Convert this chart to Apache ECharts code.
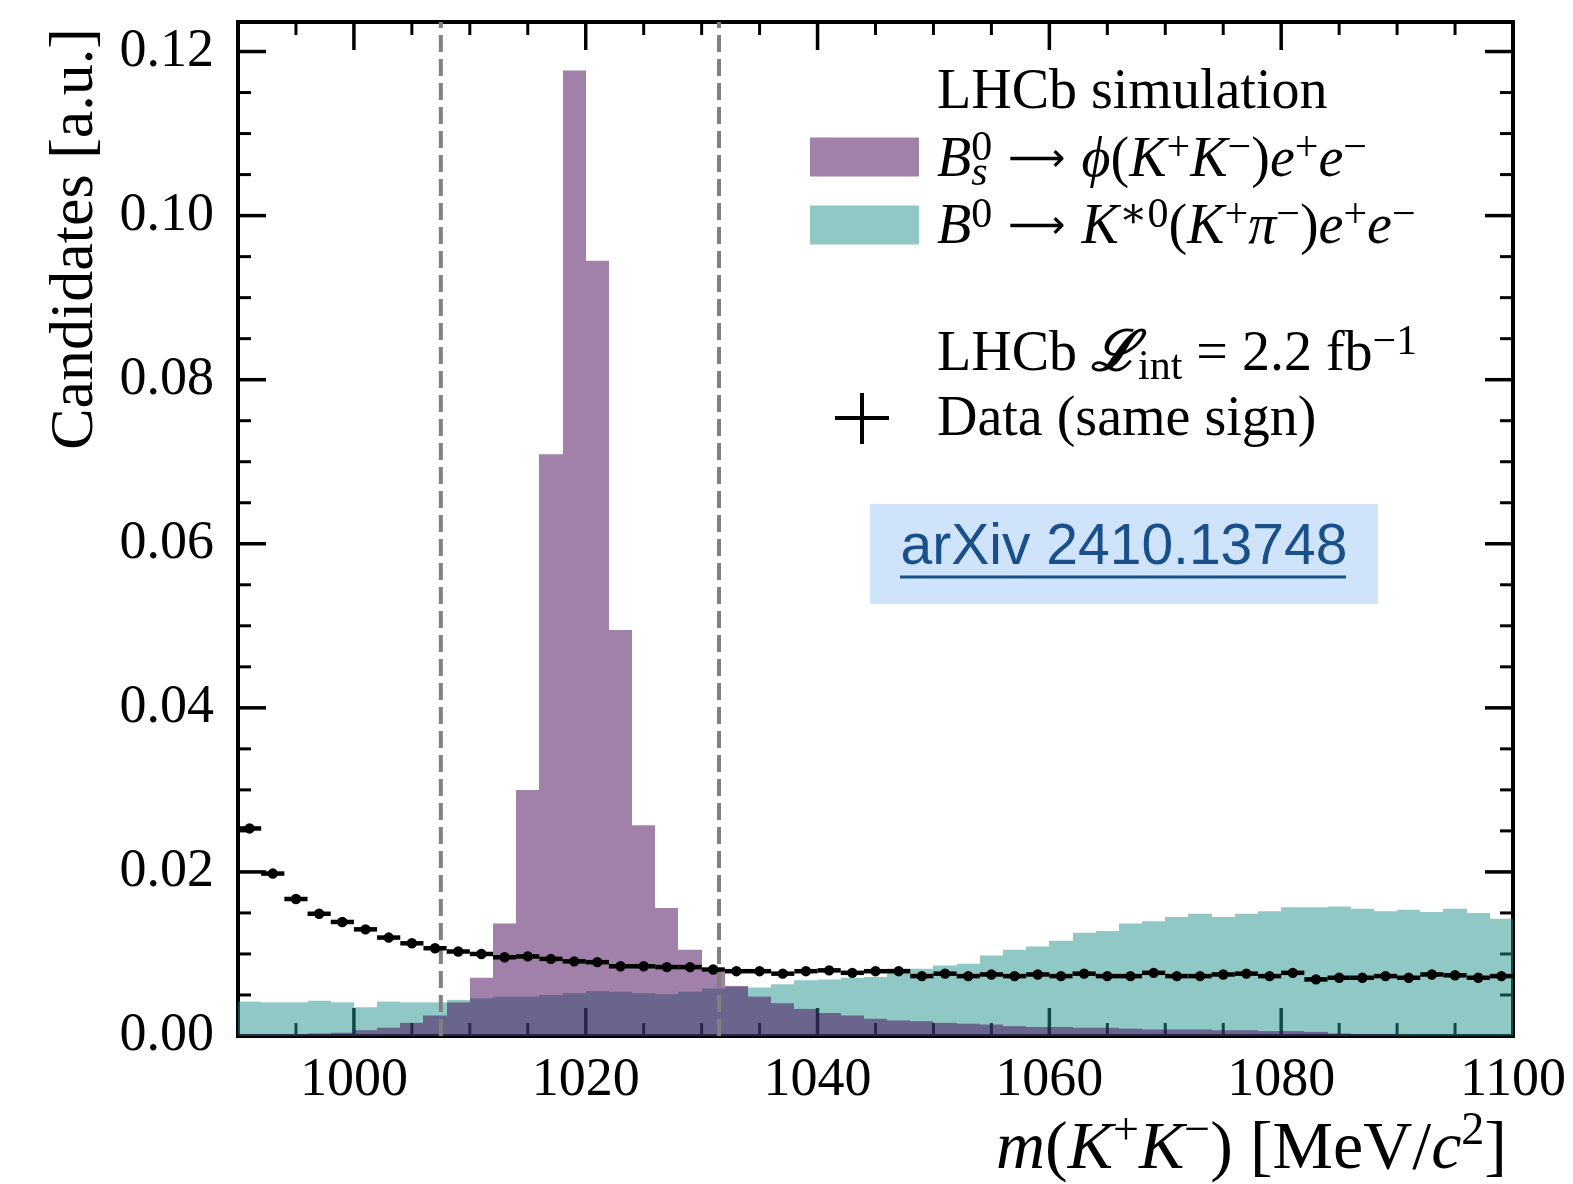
<!DOCTYPE html>
<html><head><meta charset="utf-8">
<script src="https://cdn.jsdelivr.net/npm/echarts@6/dist/echarts.min.js"></script>
<style>html,body{margin:0;padding:0;background:#fff}#c{width:1573px;height:1184px}</style>
</head><body><div id="c"></div>
<script>
// ---- data ----
const binCenters = [991,993,995,997,999,1001,1003,1005,1007,1009,1011,1013,1015,1017,1019,1021,1023,1025,1027,1029,1031,1033,1035,1037,1039,1041,1043,1045,1047,1049,1051,1053,1055,1057,1059,1061,1063,1065,1067,1069,1071,1073,1075,1077,1079,1081,1083,1085,1087,1089,1091,1093,1095,1097,1099];
const binWidth = 2;
// B_s0 -> phi(K+K-) e+e- simulation
const bsPhiEE = [0.0002,0.0002,0.0002,0.0003,0.0004,0.0007,0.0010,0.0016,0.0025,0.0041,0.0071,0.0137,0.0300,0.0709,0.1177,0.0945,0.0495,0.0257,0.0156,0.0105,0.0078,0.0061,0.0048,0.0040,0.0033,0.0028,0.0025,0.0021,0.0019,0.0018,0.0016,0.0015,0.0014,0.0012,0.0011,0.0011,0.0010,0.0010,0.0009,0.0008,0.0008,0.0008,0.0007,0.0007,0.0006,0.0006,0.0005,0.0003,0.0002,0.0002,0.0001,0.0001,0.0001,0.0001,0.0001];
// B0 -> K*0(K+pi-) e+e- simulation
const bdKstEE = [0.0042,0.0041,0.0041,0.0043,0.0041,0.0035,0.0042,0.0041,0.0041,0.0044,0.0046,0.0048,0.0048,0.0050,0.0052,0.0055,0.0054,0.0052,0.0051,0.0054,0.0058,0.0060,0.0059,0.0063,0.0068,0.0069,0.0071,0.0072,0.0082,0.0082,0.0086,0.0088,0.0098,0.0105,0.0109,0.0116,0.0126,0.0128,0.0137,0.0140,0.0145,0.0149,0.0145,0.0149,0.0152,0.0157,0.0157,0.0158,0.0155,0.0152,0.0154,0.0151,0.0155,0.0150,0.0143];
// Data (same sign)
const dataSS = [0.0253,0.0198,0.0167,0.0149,0.0139,0.0130,0.0120,0.0113,0.0107,0.0103,0.0100,0.0096,0.0097,0.0094,0.0091,0.0090,0.0085,0.0085,0.0084,0.0084,0.0081,0.0079,0.0079,0.0076,0.0079,0.0080,0.0077,0.0079,0.0079,0.0073,0.0076,0.0073,0.0075,0.0073,0.0075,0.0073,0.0076,0.0073,0.0073,0.0077,0.0073,0.0073,0.0075,0.0076,0.0073,0.0077,0.0069,0.0071,0.0071,0.0073,0.0071,0.0075,0.0074,0.0071,0.0073];
const dataErr = [0.0004,0.0004,0.0003,0.0003,0.0003,0.0003,0.0003,0.0003,0.0003,0.0003,0.0003,0.0003,0.0003,0.0003,0.0003,0.0003,0.0003,0.0003,0.0003,0.0003,0.0003,0.0003,0.0003,0.0003,0.0003,0.0003,0.0003,0.0003,0.0003,0.0003,0.0003,0.0003,0.0003,0.0003,0.0003,0.0003,0.0003,0.0003,0.0003,0.0003,0.0003,0.0003,0.0003,0.0003,0.0003,0.0003,0.0003,0.0003,0.0003,0.0003,0.0003,0.0003,0.0003,0.0003,0.0003];
const signalWindow = [1007.5, 1031.5];
const xMajorTicks = [1000,1020,1040,1060,1080,1100];
const xMinorTicks = [990,995,1005,1010,1015,1025,1030,1035,1045,1050,1055,1065,1070,1075,1085,1090,1095];
const yMajorTicks = [0,0.02,0.04,0.06,0.08,0.10,0.12];
const yMinorTicks = [0.005,0.01,0.015,0.025,0.03,0.035,0.045,0.05,0.055,0.065,0.07,0.075,0.085,0.09,0.095,0.105,0.11,0.115];
const xRange = [990, 1100];
const yRange = [0, 0.1236];

// ---- style ----
const SERIF = "'Liberation Serif', 'DejaVu Serif', serif";
const purple = 'rgba(68,1,84,0.5)';
const teal = 'rgba(33,145,140,0.5)';
const MAJ = 28, MIN = 13;

function histItem(color){
  return function(params, api){
    const c = api.value(0), v = api.value(1);
    const p0 = api.coord([c - binWidth/2, 0]);
    const p1 = api.coord([c + binWidth/2, v]);
    const x0 = Math.round(p0[0]), x1 = Math.round(p1[0]);
    return {type:'rect', shape:{x:x0, y:p1[1], width:x1-x0, height:p0[1]-p1[1]}, style:{fill:color}};
  };
}
function pointItem(params, api){
  const c = api.value(0), v = api.value(1), e = api.value(2);
  const pl = api.coord([c - binWidth/2, v]), pr = api.coord([c + binWidth/2, v]);
  const pt = api.coord([c, v + e]), pb = api.coord([c, v - e]);
  const pc = api.coord([c, v]);
  return {type:'group', children:[
    {type:'line', shape:{x1:pl[0],y1:pl[1],x2:pr[0],y2:pr[1]}, style:{stroke:'#000', lineWidth:4.5}},
    {type:'line', shape:{x1:pt[0],y1:pt[1],x2:pb[0],y2:pb[1]}, style:{stroke:'#000', lineWidth:3}},
    {type:'circle', shape:{cx:pc[0], cy:pc[1], r:5.2}, style:{fill:'#000'}}
  ]};
}
function xTickItem(params, api){
  const v = api.value(0), len = api.value(2);
  const b = api.coord([v, yRange[0]]), t = api.coord([v, yRange[1]]);
  const w = len > 20 ? 3.5 : 3;
  return {type:'group', children:[
    {type:'line', shape:{x1:b[0], y1:b[1], x2:b[0], y2:b[1]-len}, style:{stroke:'#000', lineWidth:w}},
    {type:'line', shape:{x1:t[0], y1:t[1], x2:t[0], y2:t[1]+len}, style:{stroke:'#000', lineWidth:w}}
  ]};
}
function yTickItem(params, api){
  const v = api.value(1), len = api.value(2);
  const l = api.coord([xRange[0], v]), r = api.coord([xRange[1], v]);
  const w = len > 20 ? 3.5 : 3;
  return {type:'group', children:[
    {type:'line', shape:{x1:l[0], y1:l[1], x2:l[0]+len, y2:l[1]}, style:{stroke:'#000', lineWidth:w}},
    {type:'line', shape:{x1:r[0], y1:r[1], x2:r[0]-len, y2:r[1]}, style:{stroke:'#000', lineWidth:w}}
  ]};
}
function windowItem(params, api){
  const v = api.value(0);
  const b = api.coord([v, yRange[0]]), t = api.coord([v, yRange[1]]);
  return {type:'line', shape:{x1:b[0], y1:b[1], x2:t[0], y2:t[1]}, style:{stroke:'#808080', lineWidth:4, lineDash:[17,7]}};
}

function richStyles(fs, sfs){
  const lh = Math.round(fs*1.2), slh = Math.round(fs*0.6);
  return {
    n:{fontFamily:SERIF, fontSize:fs, lineHeight:lh, fill:'#000'},
    i:{fontFamily:SERIF, fontSize:fs, lineHeight:lh, fontStyle:'italic', fill:'#000'},
    ar:{fontFamily:"'DejaVu Sans', sans-serif", fontSize:Math.round(fs*0.72), lineHeight:lh, fill:'#000'},
    g:{fontFamily:SERIF, fontSize:fs, lineHeight:lh, width:Math.round(fs*0.28), fill:'#000'},
    sp:{fontFamily:SERIF, fontSize:sfs, lineHeight:slh, verticalAlign:'top', fill:'#000'},
    sb:{fontFamily:SERIF, fontSize:sfs, lineHeight:slh, verticalAlign:'bottom', fill:'#000'},
    sbi0:{fontFamily:SERIF, fontSize:sfs, lineHeight:slh, verticalAlign:'bottom', fontStyle:'italic', width:0, fill:'#000'},
    cal:{fontFamily:"'DejaVu Serif', serif", fontSize:fs, lineHeight:lh, fontStyle:'italic', fontWeight:'bold', fill:'#000'}
  };
}

const LFS = 56;
const chart = echarts.init(document.getElementById('c'), null, {renderer:'canvas'});
chart.setOption({
  animation:false,
  backgroundColor:'#fff',
  grid:{left:238, right:60, top:22, bottom:148, show:true, borderColor:'#000', borderWidth:4, backgroundColor:'transparent'},
  xAxis:{type:'value', min:xRange[0], max:xRange[1], position:'bottom',
    axisLine:{show:false}, axisTick:{show:false}, splitLine:{show:false},
    axisLabel:{show:true, customValues:xMajorTicks, formatter: v => String(v), fontFamily:SERIF, fontSize:54, color:'#000', margin:18, showMinLabel:true, showMaxLabel:true}},
  yAxis:{type:'value', min:yRange[0], max:yRange[1], position:'left',
    axisLine:{show:false}, axisTick:{show:false}, splitLine:{show:false},
    axisLabel:{show:true, customValues:yMajorTicks, formatter: v => Number(v).toFixed(2), fontFamily:SERIF, fontSize:54, color:'#000', margin:24, showMinLabel:true, showMaxLabel:true}},
  series:[
    {type:'custom', name:'xticks', z:1, silent:true,
     data: xMajorTicks.map(v=>[v,0,MAJ]).concat(xMinorTicks.map(v=>[v,0,MIN])), encode:{x:0, y:1}, renderItem:xTickItem},
    {type:'custom', name:'yticks', z:1, silent:true,
     data: yMajorTicks.map(v=>[xRange[0],v,MAJ]).concat(yMinorTicks.map(v=>[xRange[0],v,MIN])), encode:{x:0, y:1}, renderItem:yTickItem},
    {type:'custom', name:'B0 Kst ee', z:2, silent:true,
     data: binCenters.map((c,i)=>[c, bdKstEE[i]]), encode:{x:0, y:1}, renderItem: histItem(teal)},
    {type:'custom', name:'Bs phi ee', z:3, silent:true,
     data: binCenters.map((c,i)=>[c, bsPhiEE[i]]), encode:{x:0, y:1}, renderItem: histItem(purple)},
    {type:'custom', name:'window', z:4, silent:true,
     data: signalWindow.map(v=>[v,0]), encode:{x:0, y:1}, renderItem: windowItem},
    {type:'custom', name:'Data', z:5, silent:true,
     data: binCenters.map((c,i)=>[c, dataSS[i], dataErr[i]]), encode:{x:0, y:1}, renderItem: pointItem}
  ],
  graphic:[
    {type:'text', x:76, y:28, rotation:Math.PI/2, z:10,
     style:{text:'Candidates [a.u.]', fontFamily:SERIF, fontSize:62, fill:'#000', align:'right', verticalAlign:'middle'}},
    {type:'text', x:1507, y:1150, z:10,
     style:{text:'{i|m}{n|(}{i|K}{sp|+}{i|K}{sp|−}{n|) [MeV/}{i|c}{sp|2}{n|]}', rich:richStyles(68, 46), align:'right', verticalAlign:'middle'}},
    {type:'rect', shape:{x:810, y:137.5, width:109, height:39}, style:{fill:purple}, z:10},
    {type:'rect', shape:{x:810, y:205.5, width:109, height:39}, style:{fill:teal}, z:10},
    {type:'text', x:937, y:93, z:10, style:{text:'LHCb simulation', fontFamily:SERIF, fontSize:LFS, fill:'#000', align:'left', verticalAlign:'middle'}},
    {type:'text', x:937, y:161, z:10, style:{text:'{i|B}{sbi0|s}{sp|0}{g| }{ar|⟶}{g| }{i|ϕ}{n|(}{i|K}{sp|+}{i|K}{sp|−}{n|)}{i|e}{sp|+}{i|e}{sp|−}', rich:richStyles(LFS, 42), align:'left', verticalAlign:'middle'}},
    {type:'text', x:937, y:228, z:10, style:{text:'{i|B}{sp|0}{g| }{ar|⟶}{g| }{i|K}{sp|∗0}{n|(}{i|K}{sp|+}{i|π}{sp|−}{n|)}{i|e}{sp|+}{i|e}{sp|−}', rich:richStyles(LFS, 42), align:'left', verticalAlign:'middle'}},
    {type:'text', x:937, y:355, z:10, style:{text:'{n|LHCb }{cal|ℒ}{sb|int}{n| = 2.2 fb}{sp|−1}', rich:richStyles(LFS, 42), align:'left', verticalAlign:'middle'}},
    {type:'text', x:937, y:420, z:10, style:{text:'Data (same sign)', fontFamily:SERIF, fontSize:LFS, fill:'#000', align:'left', verticalAlign:'middle'}},
    {type:'line', shape:{x1:835, y1:418, x2:889, y2:418}, style:{stroke:'#000', lineWidth:4}, z:10},
    {type:'line', shape:{x1:862, y1:393, x2:862, y2:444}, style:{stroke:'#000', lineWidth:4}, z:10},
    {type:'rect', shape:{x:870, y:504, width:508, height:100}, style:{fill:'#cfe4fa'}, z:10},
    {type:'text', x:1124, y:548, z:11, style:{text:'arXiv 2410.13748', fontFamily:"'Liberation Sans', Arial, sans-serif", fontSize:57, fill:'#1a5089', align:'center', verticalAlign:'middle'}},
    {type:'line', shape:{x1:900, y1:577, x2:1346, y2:577}, style:{stroke:'#1a5089', lineWidth:3}, z:11}
  ]
});
</script>
</body></html>
